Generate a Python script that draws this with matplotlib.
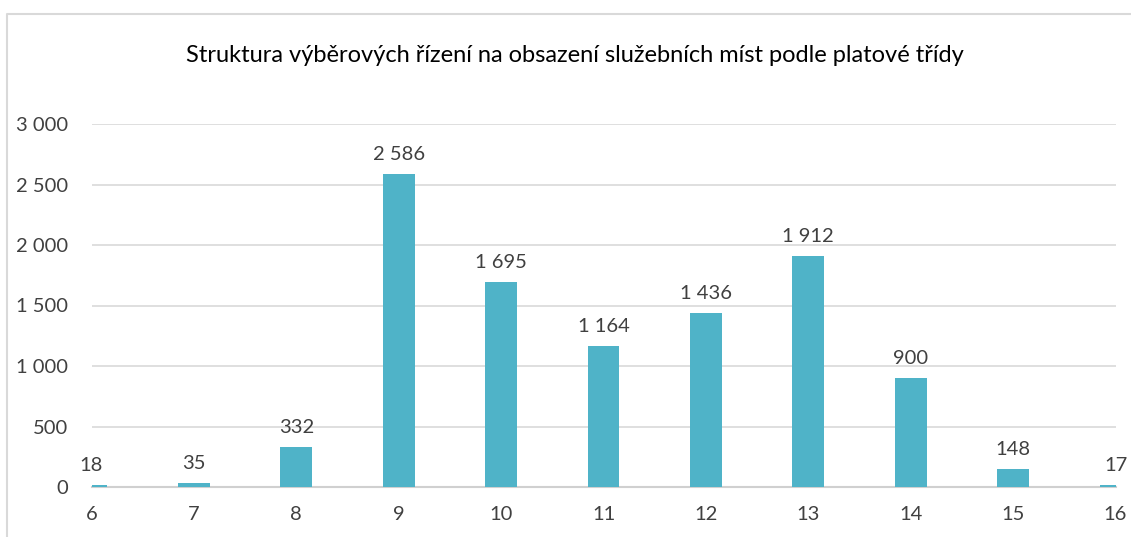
import matplotlib.pyplot as plt
from matplotlib.patches import Rectangle

plt.rcParams['font.family'] = ['Lato', 'DejaVu Sans']

# platove tridy a pocty vyberovych rizeni
tridy = [6, 7, 8, 9, 10, 11, 12, 13, 14, 15, 16]
pocty = [18, 35, 332, 2586, 1695, 1164, 1436, 1912, 900, 148, 17]
y_ticks = [0, 500, 1000, 1500, 2000, 2500, 3000]


def fmt(v):
    return '{:,}'.format(v).replace(',', ' ')


fig = plt.figure(figsize=(11.31, 5.37), dpi=100)
# ramecek grafu (jen levy a horni okraj je videt)
fig.add_artist(plt.Line2D([7 / 1131, 7 / 1131, 1.0], [0.0, 1 - 14 / 537, 1 - 14 / 537],
                          transform=fig.transFigure, color='#d9d9d9', linewidth=1.5))

ax = fig.add_axes([91.5 / 1131, 1 - 487 / 537, 1024 / 1131, 363 / 537])
bars = ax.bar(tridy, pocty, width=0.31, color='#4FB3C8', zorder=3)
ax.set_xlim(6, 16)
ax.set_ylim(0, 3000)

ax.set_xticks(tridy)
ax.set_xticklabels([str(t) for t in tridy])
ax.set_yticks(y_ticks)
ax.set_yticklabels([fmt(v) for v in y_ticks])
ax.tick_params(axis='both', length=0, labelsize=14.5, colors='#404040')
ax.tick_params(axis='x', pad=14)
ax.tick_params(axis='y', pad=17)

ax.grid(axis='y', color='#d9d9d9', linewidth=1.2, zorder=0)
for s in ['top', 'right', 'left']:
    ax.spines[s].set_visible(False)
ax.spines['bottom'].set_color('#d0d0d0')
ax.spines['bottom'].set_linewidth(1.5)

for t, v in zip(tridy, pocty):
    ax.annotate(fmt(v), (t, v), xytext=(0, 8), textcoords='offset points',
                ha='center', va='bottom', fontsize=14.5, color='#404040',
                annotation_clip=False)

fig.text(575 / 1131, 1 - 55 / 537,
         'Struktura výběrových řízení na obsazení služebních míst podle platové třídy',
         ha='center', va='center', fontsize=17, color='black')

fig.savefig('out.png', dpi=100)
